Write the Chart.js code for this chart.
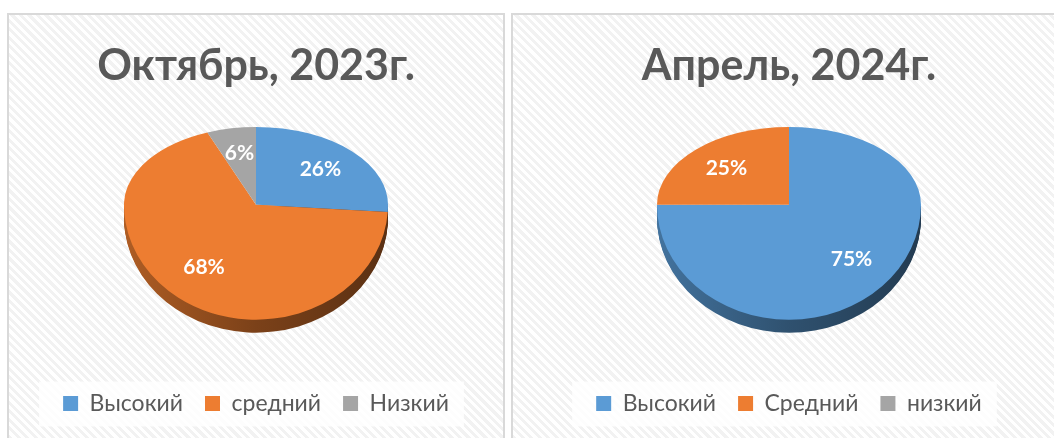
<!DOCTYPE html>
<html>
<head>
<meta charset="utf-8">
<script src="https://cdn.jsdelivr.net/npm/chart.js@4.4.1/dist/chart.umd.min.js"></script>
<style>
  body { margin: 0; background: #fff; width: 1054px; height: 438px; overflow: hidden; position: relative; }
  .panel { position: absolute; top: 13px; height: 436px; border: 2px solid #d9d9d9;
    background: repeating-linear-gradient(45deg, #ffffff 0px, #ffffff 3px, #f2f2f2 3px, #f2f2f2 6px); }
  #p1 { left: 7px; width: 494px; }
  #p2 { left: 511px; width: 552px; }
  canvas { display: block; }
</style>
</head>
<body>
<div class="panel" id="p1"><canvas id="c1" width="494" height="436"></canvas></div>
<div class="panel" id="p2"><canvas id="c2" width="552" height="436"></canvas></div>
<script>
// данные
const titleOct = 'Октябрь, 2023г.';
const titleApr = 'Апрель, 2024г.';
const labelsOct = ['Высокий', 'средний', 'Низкий'];
const labelsApr = ['Высокий', 'Средний', 'низкий'];
const valuesOct = [26, 68, 6];
const valuesApr = [75, 25, 0];
const colors = ['#5B9BD5', '#ED7D31', '#A5A5A5'];

function shade(hex, f) {
    const n = parseInt(hex.slice(1), 16);
    const r = Math.round(((n >> 16) & 255) * f);
    const g = Math.round(((n >> 8) & 255) * f);
    const b = Math.round((n & 255) * f);
    return 'rgb(' + r + ',' + g + ',' + b + ')';
}

// белая подложка под легендой
const legendBox = {
    id: 'legendBox',
    beforeDraw(chart) {
        const boxes = chart.legend.legendHitBoxes;
        if (!boxes || !boxes.length) return;
        const first = boxes[0], last = boxes[boxes.length - 1];
        const cy = first.top + first.height / 2;
        const ctx = chart.ctx;
        ctx.save();
        ctx.fillStyle = 'rgba(255,255,255,0.85)';
        ctx.fillRect(first.left - 24, cy - 22, last.left + last.width - first.left + 39, 45);
        ctx.restore();
    }
};

// "объёмный" круг: боковая стенка + сжатие по вертикали
const pie3d = {
    id: 'pie3d',
    beforeDatasetDraw(chart, args, opts) {
        const ctx = chart.ctx;
        const arcs = args.meta.data;
        const x = arcs[0].x, y = arcs[0].y, r = arcs[0].outerRadius;
        const W = chart.width, H = chart.height;
        const yc = Math.round(y);

        arcs.forEach(arc => {
            if (arc.endAngle - arc.startAngle <= 0) return;
            const base = arc.options.backgroundColor;
            for (let d = opts.depth; d >= 1; d--) {
                ctx.save();
                ctx.beginPath(); ctx.rect(0, yc + d, W, H); ctx.clip();
                ctx.translate(x, y + d); ctx.scale(1, opts.lower);
                const g = ctx.createLinearGradient(-r, 0, r, 0);
                g.addColorStop(0, shade(base, 0.74));
                g.addColorStop(0.5, shade(base, 0.52));
                g.addColorStop(1, shade(base, 0.38));
                ctx.fillStyle = g;
                ctx.beginPath(); ctx.moveTo(0, 0); ctx.arc(0, 0, r, arc.startAngle, arc.endAngle); ctx.closePath();
                ctx.fill();
                ctx.restore();
            }
        });

        // верхняя половина
        ctx.save();
        ctx.beginPath(); ctx.rect(0, 0, W, yc + 1); ctx.clip();
        ctx.translate(x, y); ctx.scale(1, opts.upper); ctx.translate(-x, -y);
        args.meta.controller.draw();
        ctx.restore();

        // нижняя половина рисует сам Chart.js
        ctx.save();
        ctx.beginPath(); ctx.rect(0, yc, W, H); ctx.clip();
        ctx.translate(x, y); ctx.scale(1, opts.lower); ctx.translate(-x, -y);
    },
    afterDatasetDraw(chart, args, opts) {
        const ctx = chart.ctx;
        ctx.restore();
        const data = chart.data.datasets[args.index].data;
        ctx.save();
        ctx.fillStyle = '#ffffff';
        ctx.font = 'bold 21px Lato';
        ctx.textAlign = 'center';
        ctx.textBaseline = 'middle';
        args.meta.data.forEach((arc, i) => {
            if (!data[i]) return;
            const mid = (arc.startAngle + arc.endAngle) / 2;
            const rr = arc.outerRadius * opts.labelRadius;
            const s = Math.sin(mid) < 0 ? opts.upper : opts.lower;
            ctx.fillText(data[i] + '%', arc.x + Math.cos(mid) * rr, arc.y + Math.sin(mid) * rr * s);
        });
        ctx.restore();
    }
};

function makeChart(id, title, labels, values) {
    return new Chart(document.getElementById(id), {
        type: 'pie',
        data: {
            labels: labels,
            datasets: [{ data: values, backgroundColor: colors, borderWidth: 0, clip: false }]
        },
        options: {
            responsive: false,
            animation: false,
            events: [],
            radius: 132,
            layout: { padding: { bottom: 26 } },
            plugins: {
                title: {
                    display: true,
                    text: title,
                    color: '#595959',
                    font: { family: 'Lato', size: 43, weight: 'bold' },
                    padding: { top: 25, bottom: -52 }
                },
                legend: {
                    position: 'bottom',
                    labels: {
                        color: '#595959',
                        font: { family: 'Lato', size: 23 },
                        boxWidth: 15,
                        boxHeight: 15,
                        padding: 22
                    }
                },
                tooltip: { enabled: false },
                pie3d: { upper: 0.59, lower: 0.87, depth: 13, labelRadius: 0.67 }
            }
        },
        plugins: [legendBox, pie3d]
    });
}

makeChart('c1', titleOct, labelsOct, valuesOct);
makeChart('c2', titleApr, labelsApr, valuesApr);
</script>
</body>
</html>
